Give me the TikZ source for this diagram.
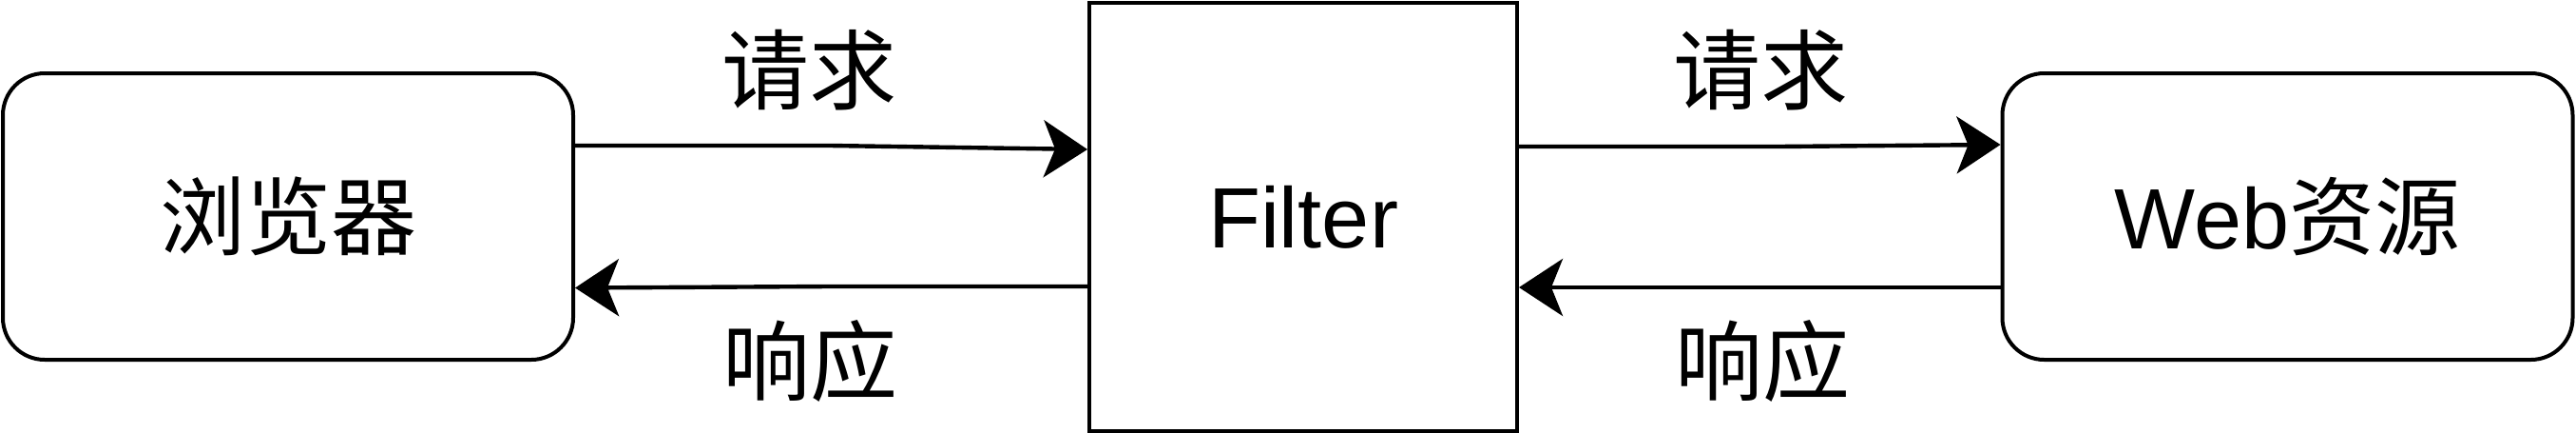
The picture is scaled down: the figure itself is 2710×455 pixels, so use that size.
\documentclass[tikz,border=0pt]{standalone}
\usepackage{fontspec}
\setmainfont{Liberation Sans}
\newfontfamily\cjk{Noto Sans CJK SC}
\usetikzlibrary{arrows.meta}
\tikzset{
  boxstyle/.style={draw=black, line width=2pt, inner sep=0pt, fill=white,
    font=\fontsize{45pt}{54pt}\selectfont},
  roundbox/.style={boxstyle, rounded corners=22pt, minimum width=300pt, minimum height=150.5pt},
  filterbox/.style={boxstyle, minimum width=225pt, minimum height=225pt},
  flow/.style={line width=2.2pt, -{Stealth[length=23pt, width=30pt, inset=6pt]}},
  lbl/.style={inner sep=0pt, font=\fontsize{46pt}{54pt}\selectfont\cjk}
}
\begin{document}
\begin{tikzpicture}[x=0.5pt, y=-0.5pt]
\useasboundingbox (0,0) rectangle (2710,455);
\node[roundbox] (browser) at (303,227.5) {\cjk 浏览器};
\node[filterbox] (filter) at (1371,228) {Filter};
\node[roundbox] (web) at (2406.5,227.5) {Web{\cjk 资源}};
\coordinate (b1) at (873,153);
\coordinate (b2) at (873,301);
\coordinate (b3) at (1872,154);
\coordinate (b4) at (1749,302);
\draw[flow] ([yshift=37.25pt]browser.east) -- (b1) -- ([yshift=35.5pt]filter.west);
\draw[flow] ([yshift=-36.5pt]filter.west) -- (b2) -- ([yshift=-37.5pt]browser.east);
\draw[flow] ([yshift=37pt]filter.east) -- (b3) -- ([yshift=37.75pt]web.west);
\draw[flow] ([yshift=-37.25pt]web.west) -- (b4) -- ([yshift=-37pt]filter.east);
\node[lbl] (req1) at (851,74) {请求};
\node[lbl] (res1) at (852,379) {响应};
\node[lbl] (req2) at (1852,74) {请求};
\node[lbl] (res2) at (1854,379) {响应};
\end{tikzpicture}
\end{document}
